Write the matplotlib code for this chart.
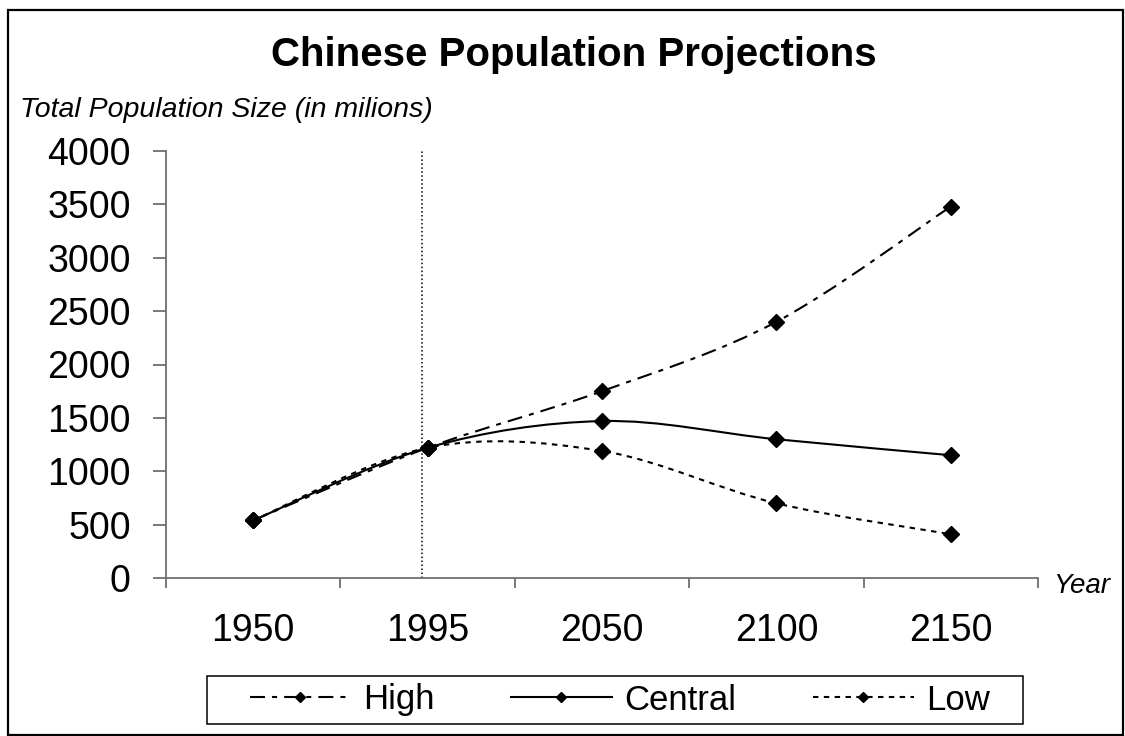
import matplotlib
matplotlib.use("Agg")
import matplotlib.pyplot as plt
import numpy as np
from matplotlib.path import Path
from matplotlib.patches import PathPatch, Rectangle
from matplotlib.lines import Line2D

plt.rcParams['font.family'] = ['Liberation Sans', 'DejaVu Sans']

years = ['1950', '1995', '2050', '2100', '2150']
high = [540, 1220, 1750, 2400, 3480]
central = [540, 1220, 1470, 1300, 1150]
low = [540, 1220, 1190, 700, 410]
y_ticks = [0, 500, 1000, 1500, 2000, 2500, 3000, 3500, 4000]

W, H = 1125, 736


def smooth_path(xs, ys):
    # bezier segments through the points (same idea as a "smoothed line" in a spreadsheet)
    pts = np.column_stack([xs, ys]).astype(float)
    n = len(pts)
    verts = [pts[0]]
    codes = [Path.MOVETO]
    for i in range(n - 1):
        p0 = pts[max(i - 1, 0)]
        p1 = pts[i]
        p2 = pts[i + 1]
        p3 = pts[min(i + 2, n - 1)]
        verts += [p1 + (p2 - p0) / 6, p2 - (p3 - p1) / 6, p2]
        codes += [Path.CURVE4] * 3
    return Path(verts, codes)


fig = plt.figure(figsize=(W / 100, H / 100), dpi=100)
ax = fig.add_axes([166 / W, 1 - 578 / H, (1038 - 166) / W, (578 - 151) / H])

x = np.arange(len(years))
styles = {
    'High': (high, (0, (7.2, 3.4, 2.4, 3.4))),
    'Central': (central, '-'),
    'Low': (low, (0, (2.6, 2.6))),
}

# dotted marker for the base year
ax.plot([0.97, 0.97], [0, 4000], color='black', lw=1.1, linestyle=(0, (1, 1.6)), zorder=2)

handles = []
for name, (vals, ls) in styles.items():
    ax.add_patch(PathPatch(smooth_path(x, vals), fill=False, edgecolor='black',
                           lw=1.5, linestyle=ls, zorder=3))
    ax.plot(x, vals, linestyle='none', marker='D', ms=8, color='black', zorder=4)
    handles.append(Line2D([], [], color='black', lw=1.5, linestyle=ls,
                          marker='D', ms=5.5, label=name))

ax.set_xlim(-0.5, len(years) - 0.5)
ax.set_ylim(0, 4000)

axis_col = '#707070'
for s in ['top', 'right']:
    ax.spines[s].set_visible(False)
for s in ['left', 'bottom']:
    ax.spines[s].set_color(axis_col)
    ax.spines[s].set_linewidth(1.3)

ax.set_yticks(y_ticks)
ax.tick_params(axis='y', direction='out', length=9.4, width=1.3, color=axis_col,
               labelsize=27, pad=16)

# boundaries between categories carry the tick marks, labels sit in the middle
ax.set_xticks(np.arange(-0.5, len(years), 1.0))
ax.set_xticklabels([])
ax.set_xticks(x, minor=True)
ax.set_xticklabels(years, minor=True)
ax.tick_params(axis='x', which='major', direction='out', length=7.2, width=1.3, color=axis_col)
ax.tick_params(axis='x', which='minor', length=0, labelsize=27, pad=25)

fig.text(574 / W, 1 - 55 / H, 'Chinese Population Projections', ha='center', va='center',
         fontsize=29, fontweight='bold')
fig.text(20 / W, 1 - 110 / H, 'Total Population Size (in milions)', ha='left', va='center',
         fontsize=20.5, style='italic')
fig.text(1053 / W, 1 - 586 / H, 'Year', ha='left', va='center', fontsize=20, style='italic')

# legend box
fig.patches.append(Rectangle((207 / W, 1 - 724 / H), (1023 - 207) / W, (724 - 676) / H,
                             transform=fig.transFigure, fill=False, edgecolor='black', lw=1.1))
fig.legend(handles=handles, loc='center', bbox_to_anchor=(620 / W, 1 - 700 / H), ncol=3,
           frameon=False, fontsize=25, handlelength=2.9, handletextpad=0.37,
           columnspacing=2.2, borderpad=0.1)

# outer border
fig.patches.append(Rectangle((8 / W, 1 - 735 / H), (1123 - 8) / W, (735 - 10) / H,
                             transform=fig.transFigure, fill=False, edgecolor='black', lw=1.6))

fig.savefig('out.png', dpi=100)
